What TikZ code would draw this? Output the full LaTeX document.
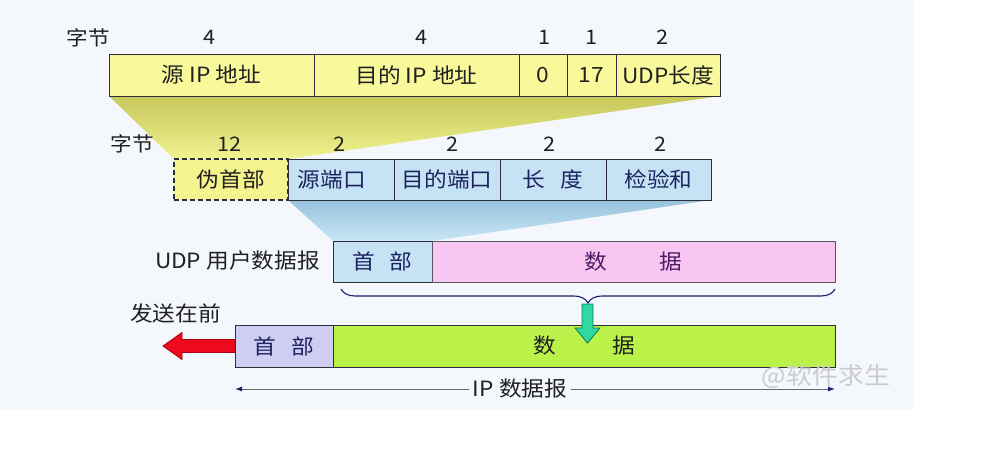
\documentclass[tikz,border=0pt]{standalone}
\usepackage{fontspec}
\setmainfont{Noto Sans CJK SC}[FakeStretch=1.08]
\usetikzlibrary{decorations.pathreplacing,arrows.meta}
\pgfdeclarelayer{bg}
\pgfsetlayers{bg,main}
\definecolor{bgpanel}{HTML}{F4F7FB}
\definecolor{ylw}{HTML}{F9F99C}
\definecolor{ylwpseudo}{HTML}{F4F38E}
\definecolor{ylwdark}{HTML}{C6C85A}
\definecolor{ylwlight}{HTML}{F1F290}
\definecolor{blu}{HTML}{C6E3F5}
\definecolor{bludark}{HTML}{98C3DC}
\definecolor{blulight}{HTML}{C8E6F7}
\definecolor{pnk}{HTML}{F9C6F1}
\definecolor{lav}{HTML}{CFCDF1}
\definecolor{limeg}{HTML}{BBF24A}
\definecolor{boxline}{HTML}{2E2E3A}
\definecolor{txtnavy}{HTML}{1C2460}
\definecolor{txtpurple}{HTML}{4A1E66}
\definecolor{txtdark}{HTML}{202020}
\definecolor{arrred}{HTML}{EC0A1C}
\definecolor{arrreddark}{HTML}{A8000F}
\definecolor{arrteal}{HTML}{30D8A2}
\definecolor{arrtealdark}{HTML}{0E7A5A}
\definecolor{dimgray}{HTML}{6A6A6A}
\definecolor{dimnavy}{HTML}{1A2070}
\begin{document}
\begin{tikzpicture}[x=1pt,y=-1pt,
  cell/.style={draw=boxline, line width=0.9pt, minimum height=42pt, inner sep=0pt, outer sep=0pt,
    anchor=north west, font=\fontsize{21}{24}\selectfont, text=txtdark},
  bluecell/.style={cell, fill=blu, minimum height=41pt, text=txtnavy},
  num/.style={font=\fontsize{20}{22}\selectfont, inner sep=0pt, text=txtdark},
  lbl/.style={font=\fontsize{20}{22}\selectfont, inner sep=0pt, text=txtdark},
  shadowfan/.style={draw=none},
  dimline/.style={draw=dimgray, line width=0.9pt,
    {Latex[length=7pt,width=5pt,color=dimnavy]}-{Latex[length=7pt,width=5pt,color=dimnavy]}},
  bracestyle/.style={draw=dimnavy, line width=1.1pt, decorate,
    decoration={brace, mirror, amplitude=14pt}},
]
\useasboundingbox (0,0) rectangle (982,450);

% ---- top row: pseudo header detail
\node[lbl] (lab1) at (88,38) {字节};
\node[num] (n1a) at (209,37) {4};
\node[num] (n1b) at (421,37) {4};
\node[num] (n1c) at (544,37) {1};
\node[num] (n1d) at (591,37) {1};
\node[num] (n1e) at (662,37) {2};

\node[cell, fill=ylw, minimum width=205pt] (srcip) at (109,54) {源 IP 地址};
\node[cell, fill=ylw, minimum width=205pt] (dstip) at (314,54) {目的 IP 地址};
\node[cell, fill=ylw, minimum width=48pt] (zero) at (519,54) {0};
\node[cell, fill=ylw, minimum width=49pt] (proto) at (567,54) {17};
\node[cell, fill=ylw, minimum width=104pt] (udplen) at (616,54) {UDP长度};

% ---- second row: UDP header
\node[lbl] (lab2) at (132,144) {字节};
\node[num] (n2a) at (229,144) {12};
\node[num] (n2b) at (339,144) {2};
\node[num] (n2c) at (452,144) {2};
\node[num] (n2d) at (549,144) {2};
\node[num] (n2e) at (660,144) {2};

\node[cell, fill=ylwpseudo, minimum width=114pt, minimum height=41pt, dash pattern=on 5pt off 3pt, line width=1.2pt] (pseudo) at (174,159) {伪首部};
\node[bluecell, minimum width=106pt] (sport) at (288,159) {源端口\hspace*{18pt}};
\node[bluecell, minimum width=106pt] (dport) at (394,159) {目的端口};
\node[bluecell, minimum width=106pt] (ulen) at (500,159) {长\hspace{16pt}度};
\node[bluecell, minimum width=105pt] (csum) at (606,159) {检验和};

% ---- UDP datagram
\node[lbl, anchor=east, font=\fontsize{21}{24}\selectfont] (udplab) at (320,261) {UDP 用户数据报};
\node[bluecell, minimum width=99pt] (udphdr) at (333,241) {首\hspace{14pt}部};
\node[cell, fill=pnk, minimum width=403pt, minimum height=41pt, text=txtpurple, draw=boxline!80] (udpdata) at (432,241) {数\hspace{53pt}据};

% ---- brace
\coordinate (brL) at (341,289);
\coordinate (brR) at (835,289);
\draw[bracestyle] (brL) -- (brR);

% ---- IP datagram
\node[lbl, anchor=east, font=\fontsize{21}{24}\selectfont] (sendlab) at (221,313) {发送在前};
\node[cell, fill=lav, minimum width=98pt, text=txtnavy] (iphdr) at (235,325) {首\hspace{15pt}部};
\node[cell, fill=limeg, minimum width=502pt] (ipdata) at (333,325) {数\hspace{56pt}据};

% green arrow from brace tip into IP data
\coordinate (gtop) at (587.5,304);
\draw[fill=arrteal, draw=arrtealdark, line width=0.8pt]
  (gtop) ++(-5.5,0) -- ++(11,0) -- ++(0,24) -- ++(7,0) -- ++(-12.5,15) -- ++(-12.5,-15) -- ++(7,0) -- cycle;

% red arrow: sent first
\draw[fill=arrred, draw=arrreddark, line width=0.8pt]
  (iphdr.west) ++(0,-6.5) -- ++(-53,0) -- ++(0,-7) -- ++(-19,13.5) -- ++(19,13.5) -- ++(0,-7) -- ++(53,0) -- cycle;

% dimension line
\coordinate (dimL) at (235,389);
\coordinate (dimR) at (835,389);
\draw[dimline] (dimL) -- (dimR)
  node[pos=0.475, fill=bgpanel, inner sep=4pt, font=\fontsize{21}{24}\selectfont, text=txtdark] (iplab) {IP 数据报};

% watermark
\node[font=\fontsize{24}{26}\selectfont, text=black!20] (wm) at (826,376) {@软件求生};

% ---- background layer
\begin{pgfonlayer}{bg}
\fill[bgpanel] (0,0) rectangle (913,410);
\shade[shadowfan, top color=ylwdark, bottom color=ylwlight]
  (srcip.south west) -- (udplen.south east) -- (pseudo.north east) -- (pseudo.north west) -- cycle;
\shade[shadowfan, top color=bludark, bottom color=blulight]
  (sport.south west) -- (csum.south east) -- (udphdr.north east) -- (udphdr.north west) -- cycle;
\end{pgfonlayer}
\end{tikzpicture}
\end{document}
